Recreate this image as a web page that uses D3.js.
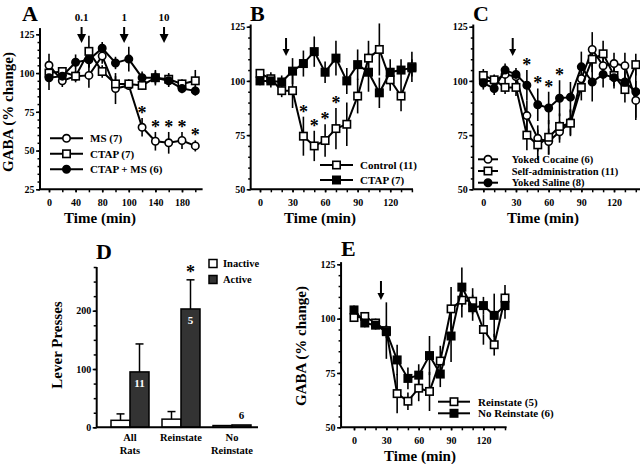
<!DOCTYPE html>
<html>
<head>
<meta charset="utf-8">
<script src="https://cdn.jsdelivr.net/npm/d3@7"></script>
<style>
  body { margin: 0; background: #fff; }
  svg { display: block; }
</style>
</head>
<body>
<script>
// ---------- data ----------
// panel A: morphine dose response
var timeA = [0, 20, 40, 60, 80, 100, 120, 140, 160, 180, 200, 220];
var tickValsA = [0, 40, 80, 120, 160, 200];
var tickLabelsA = ["0", "40", "80", "100", "140", "180"];
var doseTimesA = [49, 113, 173];
var doseLabelsA = ["0.1", "1", "10"];
var msA = [105, 95, 98, 98.5, 111, 90, 92, 65, 56, 55, 56.5, 53];
var msErrA = [7.5, 4, 4, 8, 5, 10, 3, 6, 6, 7, 5.5, 3.6];
var ctapA = [100, 101, 98, 114, 101, 93, 93, 92, 97, 96, 93, 95];
var ctapErrA = [4, 2, 3, 10, 4, 5, 3, 3, 5, 4, 3, 7];
var ctapMsA = [97, 98, 107, 108.5, 116, 106.5, 109, 97, 97, 95, 90, 88.5];
var ctapMsErrA = [8, 3, 5, 5, 4, 4, 8, 4, 4, 4, 3, 3];
var starsA = [7, 8, 9, 10, 11];

// panels B, C, E share the 10-min sampling grid
var time10 = [0, 10, 20, 30, 40, 50, 60, 70, 80, 90, 100, 110, 120, 130, 140];
var tickVals10 = [0, 30, 60, 90, 120];

var controlB = [103.5, 101, 95.5, 95.5, 74.5, 70, 72.5, 78, 80, 93, 110.5, 114.5, 100.5, 93, 106.5];
var controlErrB = [2, 3, 3, 8, 9, 7, 7.5, 9.5, 10, 8, 8, 12, 5, 7, 7];
var ctapB = [100, 100, 99.5, 104.5, 108, 113.5, 104, 110.5, 100, 107.5, 104, 94.5, 104, 105, 106];
var ctapErrB = [2, 3, 3, 6, 6, 7, 5, 8, 6, 7, 9, 7, 6, 5, 4];
var starsB = [4, 5, 6, 7];
var injTimeB = 24;

var cocaineC = [100, 100, 103, 102, 84, 73.5, 72, 76.5, 81, 101, 114.5, 107, 108, 107, 91];
var cocaineErrC = [3, 3, 3, 3, 7, 6, 6, 5, 6, 6, 8, 6, 5, 6, 9];
var selfAdmC = [102.5, 100.5, 97, 97, 75, 70.5, 74, 79, 80.5, 97, 110, 112.5, 102.5, 96, 107.5];
var selfAdmErrC = [3, 2, 3, 4, 7, 7, 8, 6, 6, 6, 6, 6, 5, 6, 5];
var salineC = [99, 96.5, 105, 103, 98, 89, 87.5, 92, 92.5, 106.5, 99.5, 103, 101.5, 99.5, 95];
var salineErrC = [3, 3, 3, 3, 7, 7.5, 7.5, 8.3, 7, 7, 9, 6, 5, 5, 12];
var starsC = [4, 5, 6, 7];
var injTimeC = 27;

// panel D: lever presses
var groupsD = ["All Rats", "Reinstate", "No Reinstate"];
var groupLinesD = [["All", "Rats"], ["Reinstate"], ["No", "Reinstate"]];
var leversD = ["Inactive", "Active"];
var inactiveD = [12, 14, 3];
var inactiveErrD = [11, 13, 0];
var activeD = [95, 203, 4];
var activeErrD = [48, 50, 0];
var nLabelsD = ["11", "5", "6"];

// panel E: reinstaters vs non-reinstaters
var reinstateE = [100.5, 101, 98, 94.5, 65.5, 62, 68, 66.5, 80.5, 104.5, 108.5, 108, 95, 88, 109.5];
var reinstateErrE = [2, 2, 2, 13, 9, 4, 6, 9, 7, 10, 8, 6, 7, 5, 6];
var noReinstateE = [104, 98, 97, 94, 81, 72.5, 74, 83, 74.5, 92, 114.5, 105, 106, 101.5, 106];
var noReinstateErrE = [2, 2, 2, 3, 7, 5, 5, 9, 6, 12, 9, 6, 4, 10, 6];
var injTimeE = 25;

// ---------- drawing ----------
var FONT = "'Liberation Serif', 'DejaVu Serif', serif";
var svg = d3.select("body").append("svg").attr("width", 640).attr("height", 464)
  .attr("font-family", FONT).attr("font-weight", "bold");
svg.append("rect").attr("width", 640).attr("height", 464).attr("fill", "#fff");

function marker(g, shape, fill, cx, cy) {
  if (shape === "circle") {
    g.append("circle").attr("cx", cx).attr("cy", cy).attr("r", 3.7)
      .attr("fill", fill).attr("stroke", "#000").attr("stroke-width", 1.6);
  } else {
    g.append("rect").attr("x", cx - 3.7).attr("y", cy - 3.7).attr("width", 7.4).attr("height", 7.4)
      .attr("fill", fill).attr("stroke", "#000").attr("stroke-width", 1.6);
  }
}

function arrow(g, x, y0, y1, w) {
  g.append("line").attr("x1", x).attr("x2", x).attr("y1", y0).attr("y2", y1 - 5)
    .attr("stroke", "#000").attr("stroke-width", 2);
  g.append("path").attr("d", "M" + (x - w / 2) + "," + (y1 - w) + "L" + (x + w / 2) + "," + (y1 - w) + "L" + x + "," + y1 + "Z")
    .attr("fill", "#000");
}

function txt(g) {
  return g.append("text").attr("font-family", FONT).attr("font-weight", "bold");
}

function linePanel(p) {
  var x = d3.scaleLinear().domain(p.xDomain).range(p.xRange);
  var y = d3.scaleLinear().domain(p.yDomain).range(p.yRange);
  var g = svg.append("g");
  var x0 = x(p.xStart), yb = y(p.yDomain[0]);

  // y ticks
  g.append("g").attr("transform", "translate(" + x0 + ",0)")
    .call(d3.axisLeft(y).tickValues(d3.range(p.yDomain[0], p.yDomain[1] + 0.1, 5)).tickSize(2.5).tickFormat(""))
    .call(function(a) { a.select(".domain").remove(); });
  g.append("g").attr("transform", "translate(" + x0 + ",0)")
    .call(d3.axisLeft(y).tickValues(p.yMajor).tickSize(4).tickPadding(1.5))
    .call(function(a) {
      a.select(".domain").remove();
      a.attr("font-family", FONT).attr("font-weight", "bold");
      a.selectAll("text").attr("font-size", 10);
    });
  // x ticks
  g.append("g").attr("transform", "translate(0," + yb + ")")
    .call(d3.axisBottom(x).tickValues(p.time).tickSize(3).tickFormat(""))
    .call(function(a) { a.select(".domain").remove(); });
  g.append("g").attr("transform", "translate(0," + yb + ")")
    .call(d3.axisBottom(x).tickValues(p.xMajor).tickSize(3).tickPadding(7)
      .tickFormat(function(d, i) { return p.xLabels ? p.xLabels[i] : d; }))
    .call(function(a) {
      a.select(".domain").remove();
      a.attr("font-family", FONT).attr("font-weight", "bold");
      a.selectAll("text").attr("font-size", 10);
    });
  g.selectAll(".tick line").attr("stroke-width", 1.5);

  // spines
  g.append("line").attr("x1", x0).attr("x2", x0).attr("y1", yb).attr("y2", y(p.yTop))
    .attr("stroke", "#000").attr("stroke-width", 2);
  g.append("line").attr("x1", x0).attr("x2", x(p.xEnd)).attr("y1", yb).attr("y2", yb)
    .attr("stroke", "#000").attr("stroke-width", 2);

  // error bars
  p.series.forEach(function(s) {
    g.selectAll(null).data(s.values).enter().append("line")
      .attr("x1", function(d, i) { return x(p.time[i]); })
      .attr("x2", function(d, i) { return x(p.time[i]); })
      .attr("y1", function(d, i) { return y(d - s.err[i]); })
      .attr("y2", function(d, i) { return y(d + s.err[i]); })
      .attr("stroke", "#000").attr("stroke-width", 1.6);
  });
  // lines + markers
  var line = d3.line().x(function(d, i) { return x(p.time[i]); }).y(function(d) { return y(d); });
  p.series.forEach(function(s) {
    g.append("path").attr("d", line(s.values)).attr("fill", "none")
      .attr("stroke", "#000").attr("stroke-width", 2);
    s.values.forEach(function(d, i) { marker(g, s.shape, s.fill, x(p.time[i]), y(d)); });
  });

  // significance stars
  if (p.stars) {
    var ss = p.series[p.stars.series];
    p.stars.idx.forEach(function(i) {
      txt(g).attr("x", x(p.time[i])).attr("y", y(ss.values[i] + ss.err[i]) - p.stars.gap + 9)
        .attr("text-anchor", "middle").attr("font-size", 18).text("*");
    });
  }

  // injection arrows
  p.arrows.forEach(function(a) {
    arrow(g, x(a.t), p.arrowY[0], p.arrowY[1], p.arrowW);
    if (a.label) {
      txt(g).attr("x", x(a.t)).attr("y", p.arrowY[0] - 6).attr("text-anchor", "middle")
        .attr("font-size", 11).text(a.label);
    }
  });

  // legend
  var L = p.legend;
  p.series.forEach(function(s, i) {
    var ly = L.y + i * L.dy;
    g.append("line").attr("x1", L.x0).attr("x2", L.x1).attr("y1", ly).attr("y2", ly)
      .attr("stroke", "#000").attr("stroke-width", 2);
    marker(g, s.shape, s.fill, (L.x0 + L.x1) / 2, ly);
    txt(g).attr("x", L.tx).attr("y", ly).attr("dy", "0.35em")
      .attr("font-size", L.fs).text(s.name);
  });

  // titles
  txt(g).attr("x", p.letter[0]).attr("y", p.letter[1]).attr("font-size", 22).text(p.letter[2]);
  txt(g).attr("x", p.xTitle[0]).attr("y", p.xTitle[1]).attr("text-anchor", "middle")
    .attr("font-size", 15).text("Time (min)");
  if (p.yTitle) {
    txt(g).attr("transform", "translate(" + p.yTitle[0] + "," + p.yTitle[1] + ") rotate(-90)")
      .attr("text-anchor", "middle").attr("font-size", 15).text("GABA (% change)");
  }
}

// Panel A
linePanel({
  time: timeA, xDomain: [0, 220], xRange: [49, 195.3], xStart: -13.5, xEnd: 231,
  xMajor: tickValsA, xLabels: tickLabelsA,
  yDomain: [25, 125], yRange: [189.3, 34.3], yTop: 129, yMajor: [25, 50, 75, 100, 125],
  series: [
    { name: "MS (7)", values: msA, err: msErrA, shape: "circle", fill: "#fff" },
    { name: "CTAP (7)", values: ctapA, err: ctapErrA, shape: "square", fill: "#fff" },
    { name: "CTAP + MS (6)", values: ctapMsA, err: ctapMsErrA, shape: "circle", fill: "#000" }
  ],
  stars: { series: 0, idx: starsA, gap: 8 },
  arrows: doseTimesA.map(function(t, i) { return { t: t, label: doseLabelsA[i] }; }),
  arrowY: [27, 43], arrowW: 9,
  legend: { x0: 50, x1: 83, y: 138.3, dy: 15.5, tx: 90, fs: 11 },
  letter: [22, 21, "A"], xTitle: [100, 223], yTitle: [13, 112]
});

// Panel B
linePanel({
  time: time10, xDomain: [0, 140], xRange: [260, 411.9], xStart: -8.6, xEnd: 141,
  xMajor: tickVals10,
  yDomain: [50, 125], yRange: [189.3, 26.7], yTop: 126, yMajor: [50, 75, 100, 125],
  series: [
    { name: "Control (11)", values: controlB, err: controlErrB, shape: "square", fill: "#fff" },
    { name: "CTAP (7)", values: ctapB, err: ctapErrB, shape: "square", fill: "#000" }
  ],
  stars: { series: 0, idx: starsB, gap: 8 },
  arrows: [{ t: injTimeB }], arrowY: [38, 56], arrowW: 7,
  legend: { x0: 320, x1: 353, y: 165, dy: 15, tx: 360, fs: 11 },
  letter: [250, 21, "B"], xTitle: [320, 223]
});

// Panel C
linePanel({
  time: time10, xDomain: [0, 140], xRange: [483.3, 635.8], xStart: -9.2, xEnd: 144,
  xMajor: tickVals10,
  yDomain: [50, 125], yRange: [189.3, 26.7], yTop: 126, yMajor: [50, 75, 100, 125],
  series: [
    { name: "Yoked Cocaine (6)", values: cocaineC, err: cocaineErrC, shape: "circle", fill: "#fff" },
    { name: "Self-administration (11)", values: selfAdmC, err: selfAdmErrC, shape: "square", fill: "#fff" },
    { name: "Yoked Saline (8)", values: salineC, err: salineErrC, shape: "circle", fill: "#000" }
  ],
  stars: { series: 2, idx: starsC, gap: 8 },
  arrows: [{ t: injTimeC }], arrowY: [38, 56], arrowW: 7,
  legend: { x0: 478, x1: 498, y: 159.3, dy: 11.7, tx: 511.7, fs: 10.5 },
  letter: [473, 21, "C"], xTitle: [543, 223]
});

// Panel E
linePanel({
  time: time10, xDomain: [0, 140], xRange: [354, 505], xStart: -12, xEnd: 141.5,
  xMajor: tickVals10,
  yDomain: [50, 125], yRange: [427.3, 264.3], yTop: 126, yMajor: [50, 75, 100, 125],
  series: [
    { name: "Reinstate (5)", values: reinstateE, err: reinstateErrE, shape: "square", fill: "#fff" },
    { name: "No Reinstate (6)", values: noReinstateE, err: noReinstateErrE, shape: "square", fill: "#000" }
  ],
  arrows: [{ t: injTimeE }], arrowY: [281, 300], arrowW: 7,
  legend: { x0: 438, x1: 470, y: 401.7, dy: 11.6, tx: 478, fs: 11 },
  letter: [341, 256, "E"], xTitle: [420, 461], yTitle: [306, 346]
});

// Panel D
(function() {
  var g = svg.append("g");
  var y = d3.scaleLinear().domain([0, 275]).range([427.3, 267]);
  var xg = d3.scaleBand().domain(groupsD).range([104.5, 257.5]);
  var xl = d3.scaleBand().domain(leversD).range([xg.bandwidth() / 2 - 19, xg.bandwidth() / 2 + 19]);
  var axX = 96.7, yb = y(0);

  g.append("g").attr("transform", "translate(" + axX + ",0)")
    .call(d3.axisLeft(y).tickValues(d3.range(0, 276, 25)).tickSize(3).tickFormat(""))
    .call(function(a) { a.select(".domain").remove(); });
  g.append("g").attr("transform", "translate(" + axX + ",0)")
    .call(d3.axisLeft(y).tickValues([0, 100, 200]).tickSize(4).tickPadding(1.5))
    .call(function(a) {
      a.select(".domain").remove();
      a.attr("font-family", FONT).attr("font-weight", "bold");
      a.selectAll("text").attr("font-size", 10);
    });
  g.selectAll(".tick line").attr("stroke-width", 1.5);

  var rows = groupsD.map(function(gr, i) {
    return [
      { group: gr, lever: "Inactive", v: inactiveD[i], e: inactiveErrD[i], fill: "#fff" },
      { group: gr, lever: "Active", v: activeD[i], e: activeErrD[i], fill: "#333" }
    ];
  });
  rows.forEach(function(pair, i) {
    pair.forEach(function(b) {
      var bx = xg(b.group) + xl(b.lever), cx = bx + xl.bandwidth() / 2;
      if (b.e > 0) {
        g.append("line").attr("x1", cx).attr("x2", cx).attr("y1", y(b.v)).attr("y2", y(b.v + b.e))
          .attr("stroke", "#000").attr("stroke-width", 1.5);
        g.append("line").attr("x1", cx - 4).attr("x2", cx + 4).attr("y1", y(b.v + b.e)).attr("y2", y(b.v + b.e))
          .attr("stroke", "#000").attr("stroke-width", 1.5);
      }
      g.append("rect").attr("x", bx).attr("y", y(b.v)).attr("width", xl.bandwidth())
        .attr("height", yb - y(b.v)).attr("fill", b.fill).attr("stroke", "#000").attr("stroke-width", 1.5);
    });
    var ax = xg(groupsD[i]) + xl("Active") + xl.bandwidth() / 2;
    var big = activeD[i] > 20;
    txt(g).attr("x", ax).attr("y", big ? y(activeD[i]) + 15.5 : y(activeD[i]) - 6)
      .attr("text-anchor", "middle").attr("font-size", 11).attr("fill", big ? "#fff" : "#000")
      .text(nLabelsD[i]);
    groupLinesD[i].forEach(function(t, k) {
      txt(g).attr("x", xg(groupsD[i]) + xg.bandwidth() / 2).attr("y", 441 + k * 13)
        .attr("text-anchor", "middle").attr("font-size", 10.5).text(t);
    });
  });
  // star above Reinstate active
  var sx = xg("Reinstate") + xl("Active") + xl.bandwidth() / 2;
  txt(g).attr("x", sx).attr("y", y(activeD[1] + activeErrD[1]) - 11 + 9)
    .attr("text-anchor", "middle").attr("font-size", 18).text("*");

  g.append("line").attr("x1", axX).attr("x2", axX).attr("y1", yb).attr("y2", y(275))
    .attr("stroke", "#000").attr("stroke-width", 2);
  g.append("line").attr("x1", axX).attr("x2", 258).attr("y1", yb).attr("y2", yb)
    .attr("stroke", "#000").attr("stroke-width", 2);

  // legend
  leversD.forEach(function(l, i) {
    g.append("rect").attr("x", 209).attr("y", 259.5 + i * 16).attr("width", 8).attr("height", 8)
      .attr("fill", i ? "#333" : "#fff").attr("stroke", "#000").attr("stroke-width", 1.5);
    txt(g).attr("x", 223).attr("y", 263.5 + i * 16).attr("dy", "0.35em")
      .attr("font-size", 10.5).text(l);
  });

  txt(g).attr("x", 96).attr("y", 259).attr("font-size", 22).text("D");
  txt(g).attr("transform", "translate(62,345) rotate(-90)")
    .attr("text-anchor", "middle").attr("font-size", 15).text("Lever Presses");
})();
</script>
</body>
</html>
